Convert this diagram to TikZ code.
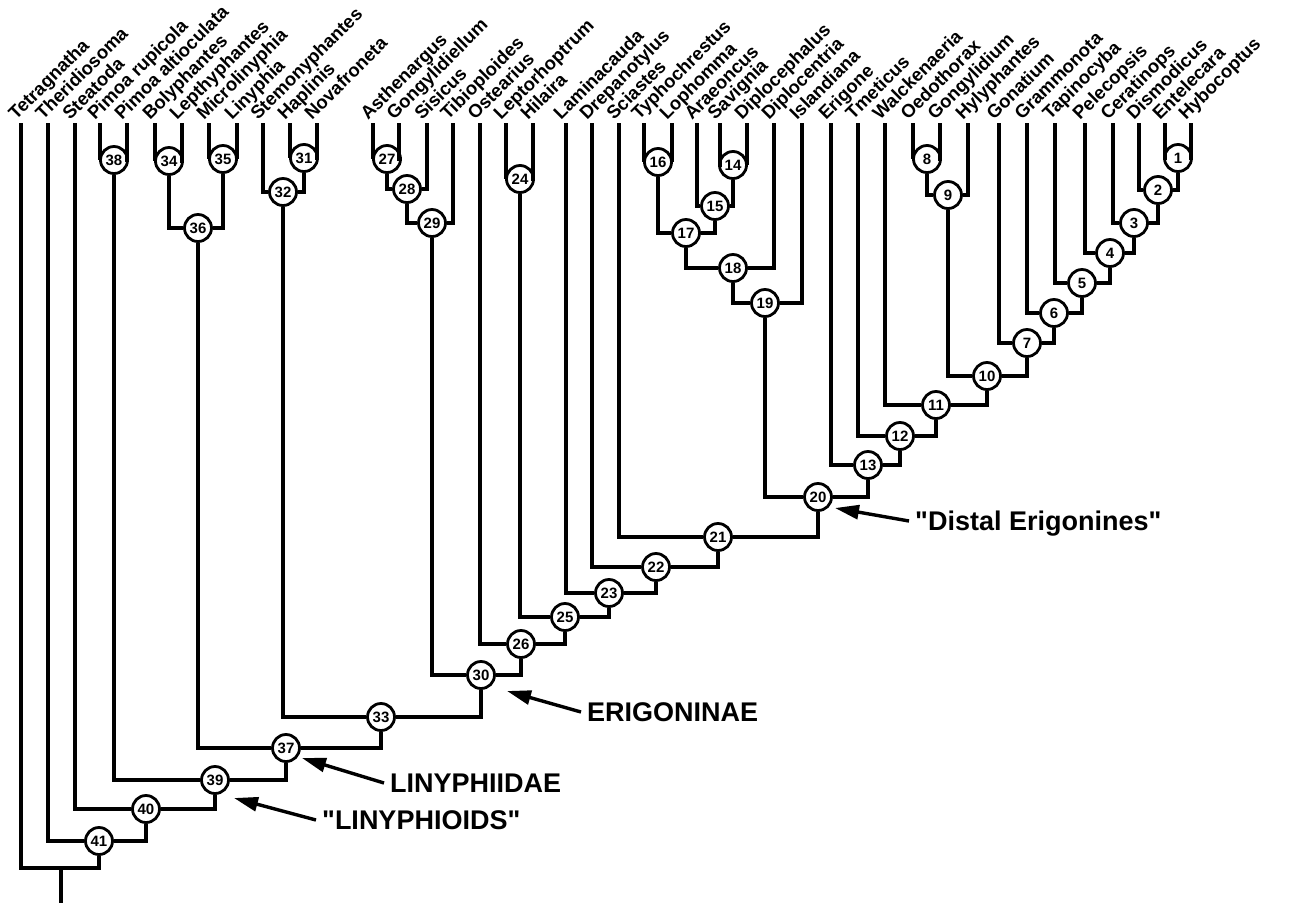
\documentclass[tikz,border=0pt]{standalone}
\usepackage{fontspec}
\setmainfont{Liberation Sans}
\usetikzlibrary{arrows.meta}
\begin{document}
\begin{tikzpicture}[x=1pt,y=-1pt,
  br/.style={line width=4.2pt},
  nd/.style={circle, draw, line width=2.8pt, fill=white, minimum size=27pt, inner sep=0pt,
             font=\fontsize{15}{15}\selectfont\bfseries},
  tx/.style={rotate=45, anchor=base west, inner sep=0pt,
             font=\fontsize{18.5}{18.5}\selectfont\bfseries},
  ann/.style={anchor=west, inner sep=6pt, text height=19pt, text depth=0pt,
             font=\fontsize{27}{27}\selectfont\bfseries},
  arr/.style={line width=3.4pt, -{Triangle[length=24pt,width=14pt]}}]
\useasboundingbox (0,0) rectangle (1289,903);

% leaves
\foreach \x/\k/\t in {21/tet/Tetragnatha, 48/the/Theridiosoma, 75/sta/Steatoda,
  100/pru/Pimoa rupicola, 127/pal/Pimoa altioculata, 155/bol/Bolyphantes,
  182/lpt/Lepthyphantes, 209/mic/Microlinyphia, 237/lin/Linyphia,
  263/ste/Stemonyphantes, 290/hap/Haplinis, 317/nov/Novafroneta,
  373/ast/Asthenargus, 399/gly/Gongylidiellum, 427/sis/Sisicus,
  453/tib/Tibioploides, 480/ost/Ostearius, 506/lep/Leptorhoptrum,
  533/hil/Hilaira, 566/lam/Laminacauda, 592/dre/Drepanotylus,
  619/sci/Sciastes, 644/typ/Typhochrestus, 672/lop/Lophomma,
  697/ara/Araeoncus, 720/sav/Savignia, 747/dcp/Diplocephalus,
  774/dct/Diplocentria, 802/isl/Islandiana, 831/eri/Erigone,
  858/tme/Tmeticus, 885/wal/Walckenaeria, 913/oed/Oedothorax,
  940/gng/Gongylidium, 968/hyl/Hylyphantes, 999/gon/Gonatium,
  1027/gra/Grammonota, 1055/tap/Tapinocyba, 1085/pel/Pelecopsis,
  1113/cer/Ceratinops, 1139/dis/Dismodicus, 1165/ent/Entelecara,
  1191/hyb/Hybocoptus}
{
  \coordinate (\k) at (\x,123);
  \node[tx] (lab-\k) at (\x-5,121) {\t};
}

% internal nodes
\node[nd] (n1) at (1178,158) {1};
\node[nd] (n2) at (1158,190) {2};
\node[nd] (n3) at (1134,223) {3};
\node[nd] (n4) at (1110,253) {4};
\node[nd] (n5) at (1082,283) {5};
\node[nd] (n6) at (1054,313) {6};
\node[nd] (n7) at (1027,343) {7};
\node[nd] (n8) at (927,159) {8};
\node[nd] (n9) at (948,195) {9};
\node[nd] (n10) at (987,376) {10};
\node[nd] (n11) at (936,405) {11};
\node[nd] (n12) at (900,436) {12};
\node[nd] (n13) at (868,465) {13};
\node[nd] (n14) at (733,165) {14};
\node[nd] (n15) at (715,206) {15};
\node[nd] (n16) at (658,162) {16};
\node[nd] (n17) at (686,233) {17};
\node[nd] (n18) at (733,268) {18};
\node[nd] (n19) at (765,303) {19};
\node[nd] (n20) at (818,497) {20};
\node[nd] (n21) at (718,537) {21};
\node[nd] (n22) at (656,567) {22};
\node[nd] (n23) at (609,593) {23};
\node[nd] (n24) at (520,179) {24};
\node[nd] (n25) at (565,617) {25};
\node[nd] (n26) at (521,644) {26};
\node[nd] (n27) at (387,159) {27};
\node[nd] (n28) at (407,189) {28};
\node[nd] (n29) at (432,223) {29};
\node[nd] (n30) at (481,675) {30};
\node[nd] (n31) at (304,158) {31};
\node[nd] (n32) at (283,192) {32};
\node[nd] (n33) at (381,717) {33};
\node[nd] (n34) at (169,161) {34};
\node[nd] (n35) at (223,159) {35};
\node[nd] (n36) at (198,228) {36};
\node[nd] (n37) at (286,748) {37};
\node[nd] (n38) at (114,160) {38};
\node[nd] (n39) at (215,780) {39};
\node[nd] (n40) at (146,809) {40};
\node[nd] (n41) at (99,841) {41};
\coordinate (root) at (61,868);
\coordinate (base) at (61,903);

% branches
\foreach \a/\p/\b in {ent/n1/hyb, dis/n2/n1, cer/n3/n2, pel/n4/n3, tap/n5/n4,
  gra/n6/n5, gon/n7/n6, oed/n8/gng, n8/n9/hyl, n9/n10/n7, wal/n11/n10,
  tme/n12/n11, eri/n13/n12, sav/n14/dcp, ara/n15/n14, typ/n16/lop,
  n16/n17/n15, n17/n18/dct, n18/n19/isl, n19/n20/n13, sci/n21/n20,
  dre/n22/n21, lam/n23/n22, lep/n24/hil, n24/n25/n23, ost/n26/n25,
  ast/n27/gly, n27/n28/sis, n28/n29/tib, n29/n30/n26, hap/n31/nov,
  ste/n32/n31, n32/n33/n30, bol/n34/lpt, mic/n35/lin, n34/n36/n35,
  n36/n37/n33, pru/n38/pal, n38/n39/n37, sta/n40/n39, the/n41/n40,
  tet/root/n41}
{
  \draw[br] (\a) |- (\p) -| (\b);
}
\draw[br] (root) -- (base);

% annotations
\node[ann] (dist) at (909,521) {\textquotedbl Distal Erigonines\textquotedbl};
\node[ann] (erig) at (581,712) {ERIGONINAE};
\node[ann] (liny) at (384,783) {LINYPHIIDAE};
\node[ann] (lioid) at (316,820) {\textquotedbl LINYPHIOIDS\textquotedbl};
\coordinate (hdist) at (835,508);
\coordinate (herig) at (507,691);
\coordinate (hliny) at (302,758);
\coordinate (hlioid) at (234,798);
\draw[arr] (dist.west) -- (hdist);
\draw[arr] (erig.west) -- (herig);
\draw[arr] (liny.west) -- (hliny);
\draw[arr] (lioid.west) -- (hlioid);
\end{tikzpicture}
\end{document}
